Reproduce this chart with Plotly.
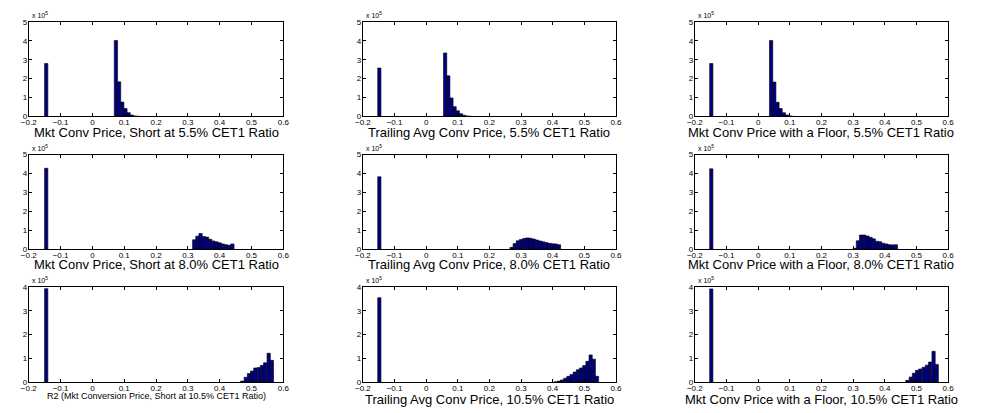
import plotly.graph_objects as go

W, H = 986, 413
FONT = "Liberation Sans, Arial, Helvetica, sans-serif"

# ---------------- data (bin centres and counts) ----------------
mkt55_x = [-0.145, 0.074, 0.084, 0.094, 0.104, 0.114, 0.124, 0.134, 0.144]
mkt55_y = [280000, 402000, 183000, 76000, 42000, 20000, 8000, 3000, 1000]

trail55_x = [-0.148, 0.060, 0.070, 0.080, 0.090, 0.100, 0.110, 0.120, 0.130, 0.140]
trail55_y = [256000, 336000, 215000, 98000, 52000, 30000, 15000, 7000, 3000, 1000]

floor55_x = [-0.148, 0.041, 0.051, 0.061, 0.071, 0.081, 0.091, 0.101, 0.111]
floor55_y = [280000, 402000, 182000, 75000, 42000, 20000, 8000, 3000, 1000]

mkt80_x = [-0.145, 0.32, 0.33, 0.34, 0.35, 0.36, 0.37, 0.38, 0.39, 0.40, 0.41, 0.42, 0.43, 0.44]
mkt80_y = [428000, 50000, 69000, 83000, 67000, 64000, 53000, 44000, 39000, 34000, 28000, 24000, 21000, 28000]

trail80_x = [-0.148, 0.27, 0.28, 0.29, 0.30, 0.31, 0.32, 0.33, 0.34, 0.35, 0.36, 0.37, 0.38, 0.39, 0.40, 0.41, 0.42]
trail80_y = [383000, 10000, 30000, 45000, 52000, 57000, 60000, 58000, 54000, 49000, 44000, 39000, 35000, 31000, 29000, 28000, 24000]

floor80_x = [-0.148, 0.305, 0.315, 0.325, 0.335, 0.345, 0.355, 0.365, 0.375, 0.385, 0.395, 0.405, 0.415, 0.425, 0.435]
floor80_y = [425000, 5000, 45000, 75000, 75000, 70000, 63000, 55000, 42000, 40000, 32000, 28000, 24000, 23000, 24000]

mkt105_x = [-0.145, 0.471, 0.482, 0.492, 0.502, 0.512, 0.523, 0.533, 0.543, 0.554, 0.564]
mkt105_y = [393000, 5000, 21000, 37000, 47000, 60000, 62000, 71000, 82000, 122000, 92000]

trail105_x = [-0.148, 0.41, 0.42, 0.43, 0.44, 0.45, 0.46, 0.47, 0.48, 0.49, 0.50, 0.51, 0.52, 0.53, 0.54]
trail105_y = [355000, 2000, 5000, 10000, 17000, 25000, 33000, 43000, 53000, 60000, 70000, 88000, 115000, 97000, 25000]

floor105_x = [-0.148, 0.471, 0.482, 0.492, 0.502, 0.512, 0.523, 0.533, 0.543, 0.554, 0.564]
floor105_y = [392000, 8000, 22000, 38000, 50000, 56000, 63000, 72000, 85000, 130000, 75000]

titles = [
    "Mkt Conv Price, Short at 5.5% CET1 Ratio",
    "Trailing Avg Conv Price, 5.5% CET1 Ratio",
    "Mkt Conv Price with a Floor, 5.5% CET1 Ratio",
    "Mkt Conv Price, Short at 8.0% CET1 Ratio",
    "Trailing Avg Conv Price, 8.0% CET1 Ratio",
    "Mkt Conv Price with a Floor, 8.0% CET1 Ratio",
    "R2 (Mkt Conversion Price, Short at 10.5% CET1 Ratio)",
    "Trailing Avg Conv Price, 10.5% CET1 Ratio",
    "Mkt Conv Price with a Floor, 10.5% CET1 Ratio",
]

x_ticks = [-0.2, -0.1, 0.0, 0.1, 0.2, 0.3, 0.4, 0.5, 0.6]
x_tick_text = ["\u22120.2", "\u22120.1", "0", "0.1", "0.2", "0.3", "0.4", "0.5", "0.6"]
y_max_rows = [5, 5, 4]
y_scale = 100000

series = [
    (mkt55_x, mkt55_y), (trail55_x, trail55_y), (floor55_x, floor55_y),
    (mkt80_x, mkt80_y), (trail80_x, trail80_y), (floor80_x, floor80_y),
    (mkt105_x, mkt105_y), (trail105_x, trail105_y), (floor105_x, floor105_y),
]

# ---------------- layout geometry (pixels) ----------------
col_px = [(21.0, 279.3), (360.0, 616.7), (696.7, 953.7)]
row_px = [(18.3, 115.0), (154.0, 250.7), (289.3, 386.7)]
title_y_px = [131.0, 266.0, 404.0]
small_title_y_px = 401.0

fig = go.Figure()
layout = dict(
    width=W, height=H,
    margin=dict(l=0, r=0, t=0, b=0),
    paper_bgcolor="white", plot_bgcolor="white",
    showlegend=False,
    font=dict(family=FONT, color="black"),
)
annotations = []

for i, ((xs, ys), title) in enumerate(zip(series, titles)):
    r, c = divmod(i, 3)
    n = i + 1
    xa = "x" if n == 1 else f"x{n}"
    ya = "y" if n == 1 else f"y{n}"
    fig.add_trace(go.Bar(
        x=xs, y=ys, width=0.0103,
        marker=dict(color="#000080", line=dict(color="black", width=0.6)),
        xaxis=xa, yaxis=ya, hoverinfo="skip",
    ))
    x0, x1 = col_px[c]
    y0, y1 = row_px[r]
    ymax = y_max_rows[r]
    common = dict(
        showline=True, linecolor="black", linewidth=1, mirror="ticks",
        ticks="inside", ticklen=3, tickwidth=1, tickcolor="black",
        showgrid=False, zeroline=False,
        tickfont=dict(family=FONT, size=8, color="black"),
    )
    layout["xaxis" if n == 1 else f"xaxis{n}"] = dict(
        domain=[x0 / W, x1 / W], range=[-0.2, 0.6], anchor=ya,
        tickmode="array", tickvals=x_ticks, ticktext=x_tick_text,
        ticklabelstandoff=-2,
        **common,
    )
    layout["yaxis" if n == 1 else f"yaxis{n}"] = dict(
        domain=[1 - y1 / H, 1 - y0 / H], range=[0, ymax * y_scale], anchor=xa,
        tickmode="array",
        tickvals=[k * y_scale for k in range(ymax + 1)],
        ticktext=[str(k) for k in range(ymax + 1)],
        ticklabelstandoff=-1,
        **common,
    )
    # exponent label
    annotations.append(dict(
        text="x 10<sup>5</sup>", xref="paper", yref="paper",
        x=(x0 + 1) / W, y=1 - (y0 - 1) / H, xanchor="left", yanchor="bottom",
        showarrow=False, font=dict(family=FONT, size=7, color="black"),
    ))
    # xlabel
    small = (i == 6)
    annotations.append(dict(
        text=title, xref="paper", yref="paper",
        x=(x0 + x1) / 2 / W,
        y=1 - (small_title_y_px if small else title_y_px[r]) / H,
        xanchor="center", yanchor="middle", showarrow=False,
        font=dict(family=FONT, size=9 if small else 13, color="black"),
    ))

layout["annotations"] = annotations
fig.update_layout(**layout)
fig.write_html("out.html")
